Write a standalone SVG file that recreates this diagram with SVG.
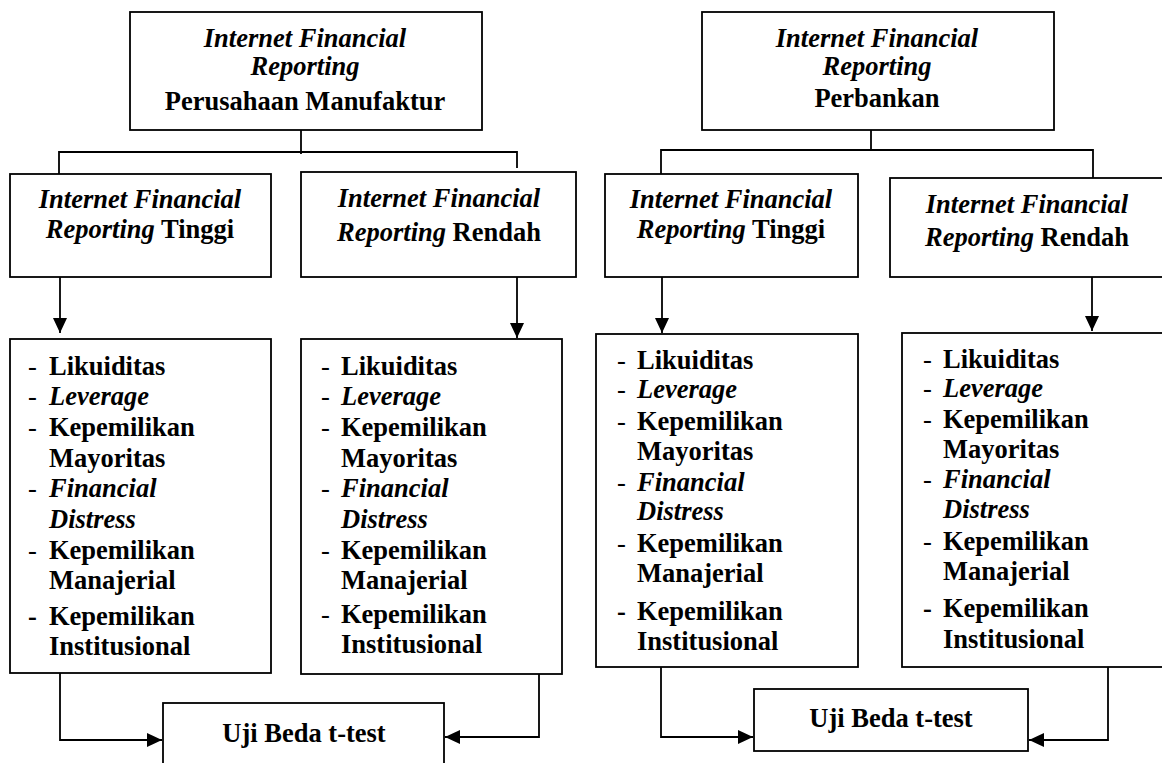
<svg xmlns="http://www.w3.org/2000/svg" width="1162" height="763" viewBox="0 0 1162 763">
<style>
  .box{fill:#fff;stroke:#000;stroke-width:1.8}
  .ln{fill:none;stroke:#000;stroke-width:1.8}
  text{font-family:"Liberation Serif","Times New Roman",serif;font-size:26.5px;font-weight:bold;fill:#000}
  .c{text-anchor:middle}
  .i{font-style:italic}
  .n{font-weight:normal}
</style>
<defs>
  <marker id="ah" markerUnits="userSpaceOnUse" markerWidth="16" markerHeight="14" refX="15" refY="7" orient="auto">
    <path d="M0,0 L15,7 L0,14 z" fill="#000"/>
  </marker>
</defs>
<rect width="1162" height="763" fill="#fff"/>

<g id="connectors">
  <!-- left half -->
  <path class="ln" d="M301,130 V154"/>
  <path class="ln" d="M59,174 V152 H517 V168"/>
  <path class="ln" d="M60,277 V333" marker-end="url(#ah)"/>
  <path class="ln" d="M517,277 V338" marker-end="url(#ah)"/>
  <path class="ln" d="M60,673 V740 H162" marker-end="url(#ah)"/>
  <path class="ln" d="M539,674 V737 H445" marker-end="url(#ah)"/>
  <!-- right half -->
  <path class="ln" d="M871,130 V150"/>
  <path class="ln" d="M661,179 V150 H1093 V178"/>
  <path class="ln" d="M662,277 V333" marker-end="url(#ah)"/>
  <path class="ln" d="M1092,277 V331" marker-end="url(#ah)"/>
  <path class="ln" d="M661,667 V737 H753" marker-end="url(#ah)"/>
  <path class="ln" d="M1108,667 V740 H1029" marker-end="url(#ah)"/>
</g>

<g id="ifr-manufaktur">
  <rect class="box" x="130" y="12" width="352" height="118"/>
  <text class="c i" x="305" y="47">Internet Financial</text>
  <text class="c i" x="305" y="75">Reporting</text>
  <text class="c" x="305" y="110">Perusahaan Manufaktur</text>
</g>

<g id="ifr-perbankan">
  <rect class="box" x="702" y="12" width="352" height="118"/>
  <text class="c i" x="877" y="47">Internet Financial</text>
  <text class="c i" x="877" y="75">Reporting</text>
  <text class="c" x="877" y="107">Perbankan</text>
</g>

<g id="m-tinggi">
  <rect class="box" x="10" y="174" width="261" height="103"/>
  <text class="c i" x="140" y="208">Internet Financial</text>
  <text class="c" x="140" y="238"><tspan class="i">Reporting</tspan> Tinggi</text>
</g>

<g id="m-rendah">
  <rect class="box" x="301" y="172" width="275" height="105"/>
  <text class="c i" x="439" y="207">Internet Financial</text>
  <text class="c" x="439" y="241"><tspan class="i">Reporting</tspan> Rendah</text>
</g>

<g id="b-tinggi">
  <rect class="box" x="605" y="174" width="253" height="103"/>
  <text class="c i" x="731" y="208">Internet Financial</text>
  <text class="c" x="731" y="238"><tspan class="i">Reporting</tspan> Tinggi</text>
</g>

<g id="b-rendah">
  <rect class="box" x="890" y="178" width="290" height="99"/>
  <text class="c i" x="1027" y="213">Internet Financial</text>
  <text class="c" x="1027" y="246"><tspan class="i">Reporting</tspan> Rendah</text>
</g>

<g id="m-tinggi-list">
  <rect class="box" x="10" y="339" width="261" height="334"/>
  <text class="n" x="28" y="375">-</text><text x="49" y="375">Likuiditas</text>
  <text class="n" x="28" y="405">-</text><text class="i" x="49" y="405">Leverage</text>
  <text class="n" x="28" y="436">-</text><text x="49" y="436">Kepemilikan</text>
  <text x="49" y="467">Mayoritas</text>
  <text class="n" x="28" y="497">-</text><text class="i" x="49" y="497">Financial</text>
  <text class="i" x="49" y="528">Distress</text>
  <text class="n" x="28" y="559">-</text><text x="49" y="559">Kepemilikan</text>
  <text x="49" y="589">Manajerial</text>
  <text x="28" y="625">-</text><text x="49" y="625">Kepemilikan</text>
  <text x="49" y="655">Institusional</text>
</g>

<g id="m-rendah-list">
  <rect class="box" x="301" y="339" width="261" height="335"/>
  <text class="n" x="321" y="375">-</text><text x="341" y="375">Likuiditas</text>
  <text class="n" x="321" y="405">-</text><text class="i" x="341" y="405">Leverage</text>
  <text class="n" x="321" y="436">-</text><text x="341" y="436">Kepemilikan</text>
  <text x="341" y="467">Mayoritas</text>
  <text class="n" x="321" y="497">-</text><text class="i" x="341" y="497">Financial</text>
  <text class="i" x="341" y="528">Distress</text>
  <text class="n" x="321" y="559">-</text><text x="341" y="559">Kepemilikan</text>
  <text x="341" y="589">Manajerial</text>
  <text class="n" x="321" y="623">-</text><text x="341" y="623">Kepemilikan</text>
  <text x="341" y="653">Institusional</text>
</g>

<g id="b-tinggi-list">
  <rect class="box" x="596" y="334" width="262" height="333"/>
  <text class="n" x="617" y="369">-</text><text x="637" y="369">Likuiditas</text>
  <text class="n" x="617" y="398">-</text><text class="i" x="637" y="398">Leverage</text>
  <text class="n" x="617" y="430">-</text><text x="637" y="430">Kepemilikan</text>
  <text x="637" y="460">Mayoritas</text>
  <text class="n" x="617" y="491">-</text><text class="i" x="637" y="491">Financial</text>
  <text class="i" x="637" y="520">Distress</text>
  <text class="n" x="617" y="552">-</text><text x="637" y="552">Kepemilikan</text>
  <text x="637" y="582">Manajerial</text>
  <text x="617" y="620">-</text><text x="637" y="620">Kepemilikan</text>
  <text x="637" y="650">Institusional</text>
</g>

<g id="b-rendah-list">
  <rect class="box" x="902" y="333" width="280" height="334"/>
  <text class="n" x="923" y="368">-</text><text x="943" y="368">Likuiditas</text>
  <text class="n" x="923" y="397">-</text><text class="i" x="943" y="397">Leverage</text>
  <text class="n" x="923" y="428">-</text><text x="943" y="428">Kepemilikan</text>
  <text x="943" y="458">Mayoritas</text>
  <text class="n" x="923" y="488">-</text><text class="i" x="943" y="488">Financial</text>
  <text class="i" x="943" y="518">Distress</text>
  <text class="n" x="923" y="550">-</text><text x="943" y="550">Kepemilikan</text>
  <text x="943" y="580">Manajerial</text>
  <text x="923" y="617">-</text><text x="943" y="617">Kepemilikan</text>
  <text x="943" y="648">Institusional</text>
</g>

<g id="uji-manufaktur">
  <rect class="box" x="163" y="703" width="281" height="75"/>
  <text class="c" x="304" y="742">Uji Beda t-test</text>
</g>

<g id="uji-perbankan">
  <rect class="box" x="754" y="689" width="274" height="62"/>
  <text class="c" x="891" y="727">Uji Beda t-test</text>
</g>
</svg>
